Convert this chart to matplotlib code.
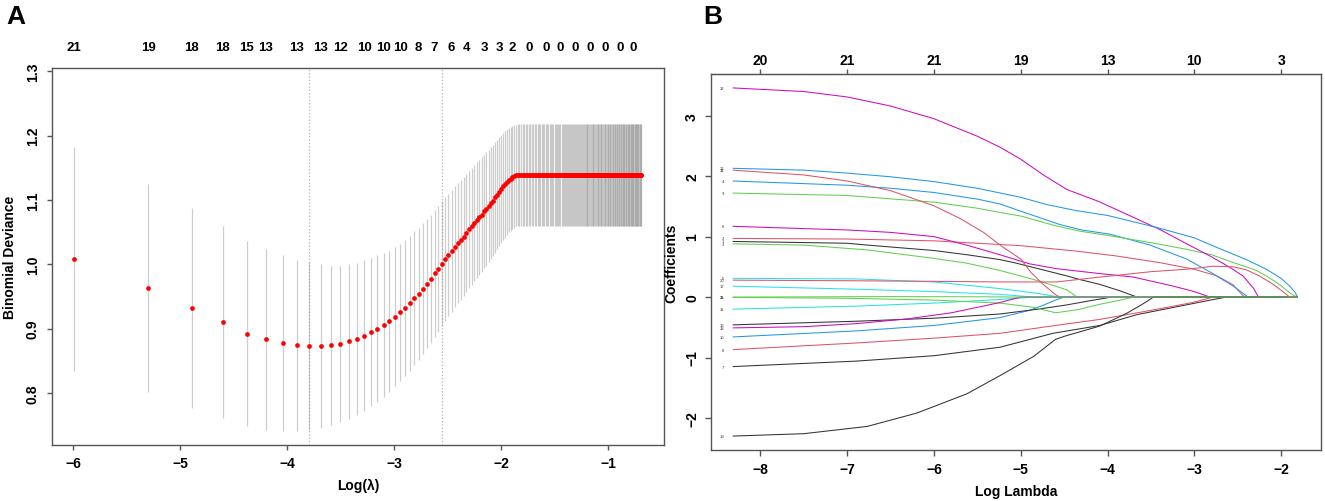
import numpy as np
import matplotlib
matplotlib.use("Agg")
import matplotlib.pyplot as plt

plt.rcParams['font.family'] = ['Liberation Sans', 'DejaVu Sans']
plt.rcParams['font.weight'] = 'bold'

# ---------------- panel A : cross-validation curve ----------------
# lambda grid (x 1e-4)
lambda_e4 = [
    25, 50, 75, 100, 125, 150, 175, 200, 225, 250,
    275, 300, 325, 350, 375, 400, 425, 450, 475, 500,
    525, 550, 575, 600, 625, 650, 675, 700, 725, 750,
    775, 800, 825, 850, 875, 900, 925, 950, 975, 1000,
    1025, 1050, 1075, 1100, 1125, 1150, 1175, 1200, 1225, 1250,
    1275, 1300, 1325, 1350, 1375, 1400, 1425, 1450, 1475, 1500,
    1525, 1550, 1575, 1600, 1625, 1650, 1675, 1700, 1725, 1750,
    1775, 1800, 1825, 1850, 1875, 1900, 1925, 1950, 1975, 2000,
    2025, 2050, 2075, 2100, 2125, 2150, 2175, 2200, 2225, 2250,
    2275, 2300, 2325, 2350, 2375, 2400, 2425, 2450, 2475, 2500,
    2525, 2550, 2575, 2600, 2625, 2650, 2675, 2700, 2725, 2750,
    2775, 2800, 2825, 2850, 2875, 2900, 2925, 2950, 2975, 3000,
    3025, 3050, 3075, 3100, 3125, 3150, 3175, 3200, 3225, 3250,
    3275, 3300, 3325, 3350, 3375, 3400, 3425, 3450, 3475, 3500,
    3525, 3550, 3575, 3600, 3625, 3650, 3675, 3700, 3725, 3750,
    3775, 3800, 3825, 3850, 3875, 3900, 3925, 3950, 3975, 4000,
    4025, 4050, 4075, 4100, 4125, 4150, 4175, 4200, 4225, 4250,
    4275, 4300, 4325, 4350, 4375, 4400, 4425, 4450, 4475, 4500,
    4525, 4550, 4575, 4600, 4625, 4650, 4675, 4700, 4725, 4750,
    4775, 4800, 4825, 4850, 4875, 4900, 4925, 4950, 4975, 5000,
]

cv_mean = [
    1.008, 0.963, 0.932, 0.910, 0.892, 0.883, 0.877, 0.874, 0.873, 0.873,
    0.874, 0.876, 0.880, 0.884, 0.889, 0.894, 0.900, 0.905, 0.911, 0.918,
    0.925, 0.932, 0.939, 0.947, 0.954, 0.962, 0.970, 0.977, 0.986, 0.993,
    1.001, 1.008, 1.014, 1.020, 1.027, 1.033, 1.038, 1.043, 1.049, 1.054,
    1.059, 1.064, 1.069, 1.073, 1.077, 1.082, 1.086, 1.090, 1.095, 1.099,
    1.104, 1.108, 1.113, 1.117, 1.121, 1.124, 1.128, 1.131, 1.133, 1.135,
    1.137, 1.138, 1.139,
] + [1.139] * 137

cv_se = [
    0.174, 0.161, 0.155, 0.149, 0.144, 0.140, 0.137, 0.133, 0.131, 0.127,
    0.124, 0.122, 0.120, 0.118, 0.117, 0.115, 0.114, 0.112, 0.110, 0.108,
    0.107, 0.106, 0.105, 0.104, 0.103, 0.102, 0.101, 0.100, 0.099, 0.098,
    0.097, 0.096, 0.095, 0.095, 0.094, 0.093, 0.093, 0.092, 0.092, 0.091,
    0.091, 0.090, 0.090, 0.089, 0.089, 0.088, 0.088, 0.087, 0.087, 0.086,
    0.086, 0.085, 0.085, 0.084, 0.083, 0.083, 0.082, 0.081, 0.081, 0.080,
    0.080, 0.079, 0.079,
] + [0.079] * 137

idx_min = 9      # lambda.min (1-based)
idx_1se = 31     # lambda.1se

# number of non-zero coefficients shown on top (1-based grid index, count)
nz_idx = [1, 2, 3, 4, 5, 6, 8, 10, 12, 15, 18, 21, 25, 29, 34, 39, 46, 53,
          60, 70, 82, 94, 108, 124, 143, 164, 186]
nz_count = [21, 19, 18, 18, 15, 13, 13, 13, 12, 10, 10, 10, 8, 7, 6, 4, 3, 3,
            2, 0, 0, 0, 0, 0, 0, 0, 0]

# ---------------- panel B : coefficient paths ----------------
coef_v01 = [(-8.32, 0.92), (-7.0, 0.89), (-6.77, 0.86), (-6.0, 0.77), (-5.62, 0.70),
            (-5.24, 0.62), (-5.05, 0.56), (-4.8, 0.47), (-4.47, 0.35), (-4.32, 0.29),
            (-4.09, 0.21), (-3.85, 0.10), (-3.66, 0.0)]
coef_v02 = [(-8.32, 0.97), (-7.0, 0.96), (-6.0, 0.93), (-5.5, 0.89), (-5.0, 0.85),
            (-4.36, 0.76), (-3.9, 0.68), (-3.4, 0.57), (-3.0, 0.46), (-2.74, 0.35),
            (-2.55, 0.20), (-2.47, 0.07), (-2.42, 0.0)]
coef_v03 = [(-8.32, 0.88), (-7.5, 0.86), (-6.77, 0.78), (-6.0, 0.64), (-5.62, 0.56),
            (-5.24, 0.44), (-4.85, 0.29), (-4.6, 0.18), (-4.47, 0.12), (-4.35, 0.0)]
coef_v04 = [(-8.32, 1.92), (-7.0, 1.85), (-6.5, 1.80), (-6.0, 1.73), (-5.5, 1.62),
            (-5.24, 1.54), (-5.0, 1.42), (-4.55, 1.20), (-4.3, 1.11), (-3.97, 1.04),
            (-3.51, 0.86), (-3.09, 0.63), (-2.8, 0.40), (-2.55, 0.18), (-2.38, 0.0)]
coef_v05 = [(-8.32, 0.31), (-6.9, 0.30), (-6.0, 0.25), (-5.24, 0.14), (-4.8, 0.06),
            (-4.6, 0.01), (-4.5, 0.0)]
coef_v06 = [(-8.32, 1.17), (-7.0, 1.11), (-6.5, 1.07), (-6.0, 1.00), (-5.6, 0.85),
            (-5.24, 0.70), (-4.9, 0.55), (-4.59, 0.47), (-4.1, 0.39), (-3.7, 0.33),
            (-3.24, 0.18), (-3.0, 0.09), (-2.82, 0.0)]
coef_v07 = [(-8.32, -1.15), (-6.9, -1.06), (-6.0, -0.97), (-5.24, -0.83), (-4.63, -0.60),
            (-4.09, -0.47), (-3.66, -0.29), (-3.2, -0.16), (-2.85, -0.06), (-2.63, 0.0)]
coef_v08 = [(-8.32, -0.87), (-6.9, -0.76), (-6.0, -0.68), (-5.24, -0.60), (-4.6, -0.47),
            (-4.09, -0.37), (-3.5, -0.22), (-3.02, -0.09), (-2.78, 0.0)]
coef_v09 = [(-8.32, 1.72), (-7.0, 1.68), (-6.0, 1.57), (-5.5, 1.47), (-5.24, 1.40),
            (-5.0, 1.34), (-4.6, 1.18), (-4.32, 1.09), (-4.0, 1.02), (-3.5, 0.90),
            (-3.09, 0.79), (-2.8, 0.70), (-2.55, 0.57), (-2.3, 0.45), (-2.17, 0.35),
            (-2.03, 0.22), (-1.90, 0.07), (-1.82, 0.0)]
coef_v10 = [(-8.32, -0.66), (-6.9, -0.56), (-6.0, -0.47), (-5.24, -0.34), (-4.9, -0.22),
            (-4.75, -0.14), (-4.6, -0.05), (-4.5, 0.0)]
coef_v11 = [(-8.32, -0.20), (-6.9, -0.15), (-6.0, -0.10), (-5.24, -0.04), (-4.85, 0.0)]
coef_v12 = [(-8.32, 3.46), (-7.5, 3.40), (-7.0, 3.31), (-6.5, 3.16), (-6.0, 2.95),
            (-5.5, 2.66), (-5.24, 2.48), (-5.0, 2.28), (-4.75, 2.03), (-4.47, 1.78),
            (-4.1, 1.58), (-3.78, 1.37), (-3.4, 1.12), (-3.1, 0.89), (-2.82, 0.68),
            (-2.6, 0.50), (-2.44, 0.35), (-2.32, 0.15), (-2.26, 0.0)]
coef_v13 = [(-8.32, -0.46), (-6.9, -0.40), (-6.0, -0.35), (-5.24, -0.28), (-4.8, -0.20),
            (-4.47, -0.13), (-4.2, -0.06), (-3.95, 0.0)]
coef_v14 = [(-8.32, 2.10), (-7.5, 2.02), (-7.0, 1.92), (-6.5, 1.76), (-6.0, 1.51),
            (-5.7, 1.30), (-5.43, 1.07), (-5.2, 0.82), (-5.0, 0.63), (-4.89, 0.42),
            (-4.75, 0.22), (-4.6, 0.04), (-4.55, 0.0)]
coef_v15 = [(-8.32, -0.005), (-7.0, -0.02), (-6.0, -0.05), (-5.24, -0.10), (-4.85, -0.17),
            (-4.6, -0.26), (-4.35, -0.21), (-4.09, -0.12), (-3.85, -0.05), (-3.70, 0.0)]
coef_v16 = [(-8.32, 2.13), (-7.5, 2.10), (-7.0, 2.05), (-6.5, 1.99), (-6.0, 1.91),
            (-5.5, 1.80), (-5.0, 1.65), (-4.7, 1.53), (-4.36, 1.43), (-4.0, 1.35),
            (-3.43, 1.15), (-3.0, 0.98), (-2.74, 0.82), (-2.4, 0.62), (-2.17, 0.46),
            (-2.0, 0.31), (-1.90, 0.18), (-1.84, 0.08), (-1.81, 0.0)]
coef_v17 = [(-8.32, 0.18), (-6.9, 0.13), (-6.0, 0.09), (-5.24, 0.045), (-4.85, 0.0)]
coef_v18 = [(-8.32, -0.51), (-7.5, -0.49), (-6.9, -0.44), (-6.3, -0.36), (-5.8, -0.26),
            (-5.5, -0.17), (-5.24, -0.09), (-5.0, 0.0)]
coef_v19 = [(-8.32, -2.30), (-7.5, -2.26), (-6.77, -2.14), (-6.2, -1.92), (-5.62, -1.60),
            (-5.24, -1.30), (-4.85, -0.98), (-4.6, -0.70), (-4.5, -0.65), (-4.09, -0.48),
            (-3.78, -0.27), (-3.6, -0.12), (-3.47, 0.0)]
coef_v20 = [(-8.32, 0.28), (-7.0, 0.27), (-6.0, 0.26), (-5.24, 0.25), (-4.59, 0.25),
            (-4.09, 0.33), (-3.5, 0.42), (-3.09, 0.46), (-2.78, 0.51), (-2.55, 0.50),
            (-2.4, 0.45), (-2.25, 0.35), (-2.1, 0.22), (-1.97, 0.08), (-1.90, 0.0)]
coef_v21 = [(-8.32, 0.0), (-7.5, 0.003), (-6.5, 0.008), (-5.5, 0.004), (-5.0, 0.0)]

coef_paths = [coef_v01, coef_v02, coef_v03, coef_v04, coef_v05, coef_v06, coef_v07,
              coef_v08, coef_v09, coef_v10, coef_v11, coef_v12, coef_v13, coef_v14,
              coef_v15, coef_v16, coef_v17, coef_v18, coef_v19, coef_v20, coef_v21]
loglam_end = -1.81

df_ticks = [-8, -7, -6, -5, -4, -3, -2]
df_labels = ['20', '21', '21', '19', '13', '10', '3']

palette = ['#000000', '#DF536B', '#61D04F', '#2297E6', '#28E2E5', '#CD0BBC']

# ---------------- figure ----------------
W, H = 1325, 502
fig = plt.figure(figsize=(W / 100, H / 100), dpi=100)
axA = fig.add_axes([52 / W, (H - 446) / H, 612 / W, 377 / H])
axB = fig.add_axes([711 / W, (H - 451) / H, 610 / W, 376 / H])

spine_col = '#555555'
for ax in (axA, axB):
    for s in ax.spines.values():
        s.set_color(spine_col)
        s.set_linewidth(1.0)

# --- A ---
loglam = np.log(np.array(lambda_e4) / 1e4)
mean = np.array(cv_mean)
se = np.array(cv_se)
axA.vlines(loglam, mean - se, mean + se, color='#8a8a8a', alpha=0.42, lw=0.9, zorder=1)
axA.axvline(loglam[idx_min - 1], color='#b5b5b5', ls=':', lw=0.9, zorder=0)
axA.axvline(loglam[idx_1se - 1], color='#b5b5b5', ls=':', lw=0.9, zorder=0)
axA.plot(loglam, mean, 'o', color='red', ms=3.4, mec='none', zorder=3)

axA.set_xlim(-6.20, -0.48)
axA.set_ylim(0.719, 1.305)
axA.set_xticks([-6, -5, -4, -3, -2, -1])
axA.set_yticks([0.8, 0.9, 1.0, 1.1, 1.2, 1.3])
axA.set_yticklabels(['0.8', '0.9', '1.0', '1.1', '1.2', '1.3'], rotation=90, va='center')
axA.tick_params(axis='both', direction='out', length=3.3, width=1, color=spine_col,
                labelsize=10)
axA.tick_params(axis='x', pad=4.5)
axA.tick_params(axis='y', pad=5.5)
axA.set_xlabel('Log(λ)', fontsize=10, fontweight='bold', labelpad=6)
axA.set_ylabel('Binomial Deviance', fontsize=10, fontweight='bold', labelpad=6)

for i, n in zip(nz_idx, nz_count):
    axA.text(loglam[i - 1], 1.055, str(n), transform=axA.get_xaxis_transform(),
             ha='center', va='center', fontsize=9.5, fontweight='bold')

fig.text(6 / W, 1 - 17 / H, 'A', fontsize=19, fontweight='bold', ha='left', va='center')

# --- B ---
for j, path in enumerate(coef_paths):
    xs = [p[0] for p in path]
    ys = [p[1] for p in path]
    if xs[-1] < loglam_end:
        xs.append(loglam_end)
        ys.append(0.0)
    col = '#333333' if j % 6 == 0 else palette[j % 6]
    axB.plot(xs, ys, color=col, lw=0.75, solid_capstyle='butt')
    axB.text(xs[0] - 0.1, ys[0], str(j + 1), fontsize=3, ha='right', va='center',
             fontweight='normal', color='#333333')

axB.set_xlim(-8.57, -1.54)
axB.set_ylim(-2.53, 3.69)
axB.set_xticks([-8, -7, -6, -5, -4, -3, -2])
axB.set_yticks([-2, -1, 0, 1, 2, 3])
axB.set_yticklabels(['\u22122', '\u22121', '0', '1', '2', '3'], rotation=90, va='center')
axB.tick_params(axis='both', direction='out', length=4.5, width=1, color=spine_col,
                labelsize=10)
axB.tick_params(axis='x', pad=4)
axB.tick_params(axis='y', pad=4)
axB.set_xlabel('Log Lambda', fontsize=10, fontweight='bold', labelpad=6)
axB.set_ylabel('Coefficients', fontsize=10, fontweight='bold', labelpad=5)

top = axB.secondary_xaxis('top')
top.set_xticks(df_ticks)
top.set_xticklabels(df_labels)
top.tick_params(direction='out', length=3.5, width=1, color=spine_col, labelsize=10, pad=1.5)
top.spines['top'].set_color(spine_col)

fig.text(703 / W, 1 - 17 / H, 'B', fontsize=19, fontweight='bold', ha='left', va='center')

fig.savefig('out.png', dpi=100)
